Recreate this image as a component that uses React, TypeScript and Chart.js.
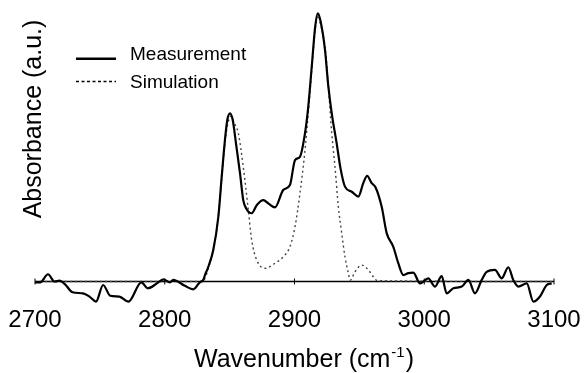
import { useEffect, useRef } from "react";
import { Chart, registerables } from "chart.js";

Chart.register(...registerables);

const FONT = '"Liberation Sans", Arial, Helvetica, sans-serif';

const measurementX = [
  2700, 2704, 2710, 2715, 2719, 2723, 2729, 2737, 2742, 2747, 2752.5, 2758, 2765, 2772,
  2782, 2787, 2794, 2799, 2804, 2806.5, 2815.5, 2822, 2827, 2829.7, 2831, 2833.6, 2837.4,
  2841.3, 2843.9, 2846.4, 2848.2, 2850.3, 2852.4, 2854.9, 2858, 2860.5, 2863, 2867, 2871,
  2876, 2880, 2885, 2891.4, 2896.5, 2900.4, 2904.2, 2908.1, 2910.6, 2913.3, 2916, 2918,
  2920, 2923.5, 2926, 2928.7, 2932.5, 2935.5, 2938.9, 2944.1, 2949.2, 2953, 2956, 2959.5,
  2962.5, 2967.2, 2971.1, 2976.1, 2980, 2983.9, 2987.7, 2991.6, 2996.7, 3003.1, 3008.3,
  3013.4, 3017.3, 3022.4, 3028.9, 3034, 3039.1, 3044.3, 3048.1, 3054.5, 3059.7, 3064.8,
  3068.6, 3072.5, 3079, 3084.1, 3089.2, 3094.4, 3098.2,
];
const measurementY = [
  -0.3, -0.3, 2.7, 0, 0.3, -1.0, -4.0, -4.4, -5.6, -7.5, -1.3, -5.3, -5.6, -7.5,
  -0.3, -2.5, -0.7, 0.8, -0.3, 0.6, -1.6, -2.9, -0.3, 0.6, 2.4, 5.5, 11.7,
  24.1, 39.0, 52.7, 60.1, 62.6, 60.1, 51.4, 40.3, 30.3, 27, 25.4, 28.5,
  30.3, 29, 27.6, 34.1, 35.9, 45.2, 46.4, 55.2, 65, 80, 95, 99.8,
  97, 86.2, 73, 62.6, 51.4, 42, 35.3, 33.4, 31.6, 36.6, 39.3, 36.6,
  35, 27.8, 17.9, 13.0, 6.8, 2.4, 3.1, 3.3, -0.7, 1.2, -1.9,
  2.0, -4.4, -2.5, -1.9, 0.6, -4.4, 0.6, 3.6, 4.3, 1.2, 5.3,
  0.6, -1.9, -0.7, -7.5, -5.6, -1.3, -0.7,
];

const simulationX = [
  2700, 2826, 2830, 2834, 2837.4, 2841.3, 2844, 2846.5, 2849, 2851, 2853.5, 2856.7, 2860.5,
  2864.4, 2867, 2870.9, 2877.3, 2885, 2891.4, 2896.5, 2900.4, 2904.2, 2908.1, 2911, 2913.5,
  2916, 2918, 2920, 2923.8, 2926.5, 2928.7, 2931.2, 2933.8, 2936.4, 2938.9, 2941.5, 2943,
  2946.6, 2951.8, 2956.9, 2960.7, 2964, 3100,
];
const simulationY = [
  0, 0, 0.5, 5.5, 11.7, 24, 39, 52, 59.5, 61.5, 59, 55.2, 42.7,
  26.6, 15.4, 8.0, 4.9, 6.8, 9.2, 13.0, 20.4, 32.8, 48.9, 65, 80,
  94, 99, 96, 86, 70, 55.2, 42.7, 27.8, 17.9, 9.2, 3.1, 0.5,
  3.6, 6.1, 4.3, 1.8, 0.3, 0,
];

const xTicks = [2700, 2800, 2900, 3000, 3100];
const seriesLabels = ["Measurement", "Simulation"];
const xTitleMain = "Wavenumber (cm";
const xTitleSup = "-1";
const xTitleEnd = ")";
const yTitle = "Absorbance (a.u.)";

const decorPlugin = {
  id: "decor",
  beforeDatasetsDraw(chart: any) {
    const { ctx, scales } = chart;
    const x = scales.x;
    const y = scales.y;
    const y0 = y.getPixelForValue(0);
    const x0 = x.getPixelForValue(xTicks[0]);
    const x1 = x.getPixelForValue(xTicks[xTicks.length - 1]);
    ctx.save();
    ctx.strokeStyle = "#000";
    ctx.lineWidth = 1.3;
    ctx.beginPath();
    ctx.moveTo(x0, y0);
    ctx.lineTo(x1, y0);
    ctx.stroke();
    ctx.lineWidth = 1;
    for (const t of xTicks) {
      const px = x.getPixelForValue(t);
      ctx.beginPath();
      ctx.moveTo(px, y0 - 3);
      ctx.lineTo(px, y0 + 3);
      ctx.stroke();
    }
    ctx.restore();
  },
  afterDraw(chart: any) {
    const { ctx } = chart;
    ctx.save();
    ctx.fillStyle = "#000";
    ctx.strokeStyle = "#000";
    // legend
    ctx.lineWidth = 2.5;
    ctx.setLineDash([]);
    ctx.beginPath();
    ctx.moveTo(76, 58.8);
    ctx.lineTo(116, 58.8);
    ctx.stroke();
    ctx.lineWidth = 1.4;
    ctx.setLineDash([3, 2.5]);
    ctx.beginPath();
    ctx.moveTo(76, 81.5);
    ctx.lineTo(116, 81.5);
    ctx.stroke();
    ctx.setLineDash([]);
    ctx.font = `19px ${FONT}`;
    ctx.textAlign = "left";
    ctx.textBaseline = "alphabetic";
    ctx.fillText(seriesLabels[0], 130, 60);
    ctx.fillText(seriesLabels[1], 130, 88);

    // y title
    ctx.save();
    ctx.translate(41, 119);
    ctx.rotate(-Math.PI / 2);
    ctx.font = `25px ${FONT}`;
    ctx.textAlign = "center";
    ctx.fillText(yTitle, 0, 0);
    ctx.restore();

    // x title with superscript
    const mainFont = `25px ${FONT}`;
    const supFont = `15px ${FONT}`;
    ctx.font = mainFont;
    const w1 = ctx.measureText(xTitleMain).width;
    const w3 = ctx.measureText(xTitleEnd).width;
    ctx.font = supFont;
    const w2 = ctx.measureText(xTitleSup).width + 2;
    const total = w1 + w2 + w3;
    const cx = 304;
    const base = 366.5;
    let sx = cx - total / 2;
    ctx.textAlign = "left";
    ctx.font = mainFont;
    ctx.fillText(xTitleMain, sx, base);
    sx += w1 + 1;
    ctx.font = supFont;
    ctx.fillText(xTitleSup, sx, base - 10);
    sx += w2 - 1;
    ctx.font = mainFont;
    ctx.fillText(xTitleEnd, sx, base);
    ctx.restore();
  },
};

export default function App() {
  const canvasRef = useRef<HTMLCanvasElement | null>(null);

  useEffect(() => {
    const canvas = canvasRef.current;
    if (!canvas) return;
    const chart = new Chart(canvas, {
      type: "line",
      data: {
        datasets: [
          {
            label: seriesLabels[0],
            data: measurementX.map((x, i) => ({ x, y: measurementY[i] })),
            borderColor: "#000",
            borderWidth: 2.2,
            pointRadius: 0,
            fill: false,
            cubicInterpolationMode: "monotone",
          },
          {
            label: seriesLabels[1],
            data: simulationX.map((x, i) => ({ x, y: simulationY[i] })),
            borderColor: "#444",
            borderWidth: 1.4,
            borderDash: [2, 3],
            pointRadius: 0,
            fill: false,
            cubicInterpolationMode: "monotone",
          },
        ],
      },
      options: {
        animation: false,
        responsive: false,
        maintainAspectRatio: false,
        layout: { padding: { left: 35, right: 30, top: 7.4, bottom: 0 } },
        plugins: { legend: { display: false }, tooltip: { enabled: false } },
        scales: {
          x: {
            type: "linear",
            min: 2700,
            max: 3100,
            grid: { display: false, drawTicks: false },
            border: { display: false },
            ticks: {
              stepSize: 100,
              color: "#000",
              padding: 0,
              font: { family: FONT, size: 24 },
              callback: (v: any) => String(v),
            },
            afterBuildTicks: (scale: any) => {
              scale.ticks = xTicks.map((v) => ({ value: v }));
            },
            afterFit: (scale: any) => {
              scale.height = 67.3;
            },
          },
          y: {
            display: false,
            min: -9,
            max: 102,
          },
        },
      },
      plugins: [decorPlugin],
    });
    return () => chart.destroy();
  }, []);

  return (
    <div style={{ position: "fixed", left: 0, top: 0, width: 584, height: 373, background: "#fff" }}>
      <canvas ref={canvasRef} width={584} height={373} style={{ display: "block", width: 584, height: 373 }} />
    </div>
  );
}
